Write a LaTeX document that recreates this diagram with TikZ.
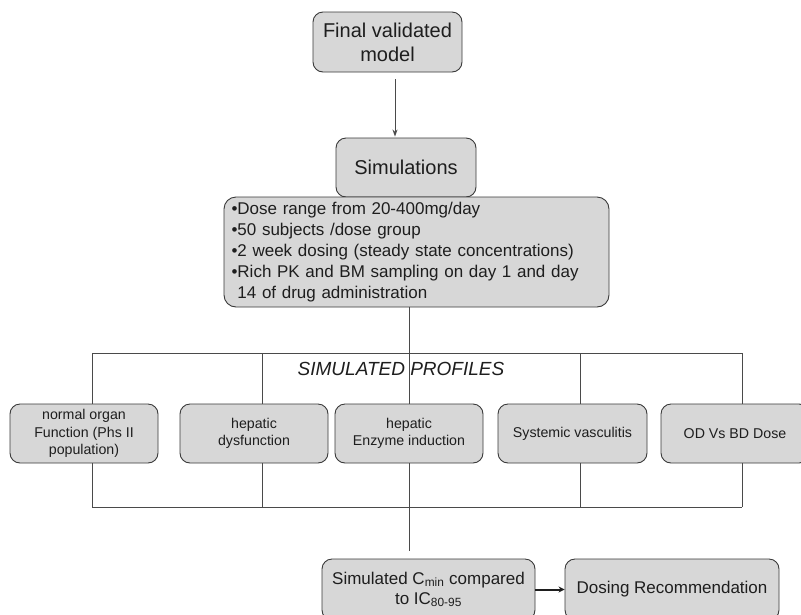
\documentclass[tikz,border=0pt]{standalone}
\usepackage{fontspec}
\setmainfont{Liberation Sans}
\usetikzlibrary{arrows.meta,calc}
\definecolor{boxfill}{HTML}{D7D7D7}
\definecolor{boxline}{HTML}{3A3A3A}
\definecolor{conn}{HTML}{4A4A4A}
\definecolor{txt}{HTML}{1E1E1E}
\tikzset{
  rbox/.style={draw=boxline, fill=boxfill, rounded corners=10pt, line width=0.9pt,
    align=center, text=txt, inner sep=0pt},
  big/.style={font=\fontsize{20}{24}\selectfont},
  mid/.style={font=\fontsize{17}{20}\selectfont},
  small/.style={font=\fontsize{14.2}{17.5}\selectfont},
  conline/.style={draw=conn, line width=0.9pt},
}
\begin{document}
\begin{tikzpicture}[x=1pt,y=-1pt]
\path[use as bounding box, clip] (0,0) rectangle (801,614);
\fill[white] (0,0) rectangle (801,614);

% top boxes
\node[rbox, big, minimum width=149pt, minimum height=60pt] (final) at (387.5,42) {Final validated\\model};
\node[rbox, big, minimum width=140pt, minimum height=59pt] (sim) at (406,167.5) {Simulations};
\node[rbox, rounded corners=12pt, minimum width=385pt, minimum height=110pt,
  font=\fontsize{17}{21}\selectfont, align=left, text width=370pt, inner xsep=7.5pt] (detail) at (416.5,252)
  {\textbullet Dose range from 20-400mg/day\\
   \textbullet 50 subjects /dose group\\
   \textbullet 2 week dosing (steady state concentrations)\\
   \textbullet Rich PK and BM sampling on day 1 and day\\
   \hphantom{\textbullet}14 of drug administration};

% arrow final -> sim
\coordinate (ax) at (395,0);
\draw[conline, -{Stealth[length=7pt,width=5pt]}, shorten <=7pt, shorten >=1pt]
  (ax |- final.south) -- (ax |- sim.north);

% columns on top bar
\coordinate (c1) at (92,353);
\coordinate (c2) at (262,353);
\coordinate (c3) at (409,353);
\coordinate (c4) at (580,353);
\coordinate (c5) at (742,353);

% profile boxes
\node[rbox, small, minimum width=148pt, minimum height=59pt] (b1) at (84,433.5) {normal organ\\Function (Phs II\\population)};
\node[rbox, small, minimum width=148pt, minimum height=59pt] (b2) at (254,433.5) {hepatic\\dysfunction};
\node[rbox, small, minimum width=148pt, minimum height=59pt] (b3) at (409,433.5) {hepatic\\Enzyme induction};
\node[rbox, small, minimum width=149pt, minimum height=59pt] (b4) at (572.5,433.5) {Systemic vasculitis};
\node[rbox, small, minimum width=148pt, minimum height=59pt] (b5) at (735,433.5) {OD Vs BD Dose};

% label
\node[font=\fontsize{19}{22}\selectfont\itshape, text=txt, inner sep=0pt] (lab) at (401,369) {SIMULATED PROFILES};

% bottom bar coordinates
\coordinate (d1) at (92,507);
\coordinate (d5) at (742,507);
\coordinate (d3) at (409,507);

% bottom boxes
\node[rbox, mid, minimum width=213pt, minimum height=61pt] (cmin) at (428.5,589.5)
  {Simulated C\textsubscript{min} compared\\to IC\textsubscript{80-95}};
\node[rbox, mid, minimum width=214pt, minimum height=61pt] (dose) at (672,589.5) {Dosing Recommendation};

% connectors
\draw[conline] (detail.south -| c3) -- (c3);
\draw[conline] (c1) -- (c5);
\foreach \c/\b in {c1/b1, c2/b2, c3/b3, c4/b4, c5/b5}{
  \draw[conline] (\c) -- (\c |- \b.north);
  \draw[conline] (\c |- \b.south) -- (\c |- d1);
}
\draw[conline] (d1) -- (d5);
\draw[conline, shorten >=8pt] (d3) -- (d3 |- cmin.north);
\draw[draw=txt, line width=2pt, -{Stealth[length=6pt,width=6pt]}] (cmin.east) -- (dose.west);
\end{tikzpicture}
\end{document}
